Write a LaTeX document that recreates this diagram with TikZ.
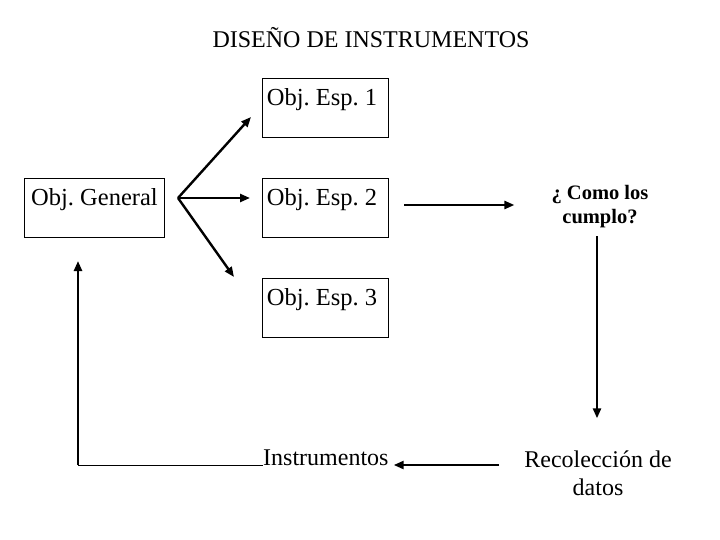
\documentclass[tikz,border=0pt]{standalone}
\usepackage{fontspec}
\setmainfont{Liberation Serif}
\usetikzlibrary{arrows.meta, positioning}
\frenchspacing

\begin{document}
\begin{tikzpicture}[
    x=1pt, y=-1pt,
    box/.style={draw, line width=1pt, minimum width=126pt, inner sep=0pt, text height=27pt, text depth=32pt, font=\fontsize{24.5}{28}\selectfont},
    leftbox/.style={box, execute at end node=\hspace*{7pt}},
    txt/.style={inner sep=0pt, align=center, font=\fontsize{24}{28}\selectfont},
    arr/.style={line width=2.4pt, -{Triangle[length=10pt,width=8pt]}}
]
\useasboundingbox (0,0) rectangle (720,540);
\node[txt] (title) at (371,38) {DISEÑO DE INSTRUMENTOS};
\node[leftbox, anchor=north west] (esp1) at (262,78) {Obj. Esp. 1};
\node[leftbox, anchor=north west] (esp2) at (262,178) {Obj. Esp. 2};
\node[leftbox, anchor=north west] (esp3) at (262,278) {Obj. Esp. 3};
\node[box, anchor=north west, minimum width=140pt] (gen) at (24,178) {Obj. General};
\node[txt, font=\bfseries\fontsize{20.5}{24}\selectfont] (como) at (600,207) {¿ Como los\\cumplo?};
\node[txt] (rec) at (598,473) {Recolección de\\datos};
\node[txt, anchor=base west] (instr) at (263,465) {Instrumentos};

\coordinate (fork) at (178,198);
\coordinate (tip1) at (251,117);
\coordinate (tip2) at (250,198);
\coordinate (tip3) at (234,277);
\coordinate (corner) at (78,465);
\coordinate (back) at (78,261);

\foreach \t in {tip1,tip2,tip3} \draw[arr] (fork) -- (\t);
\draw[arr, shorten <=15pt, shorten >=37pt] ([yshift=3pt]esp2.east) -- ([yshift=3pt]esp2.east -| como.west);
\draw[arr, shorten <=8pt, shorten >=32pt] ([xshift=-3pt]como.south) -- ([xshift=-3pt]como.south |- rec.north);
\draw[arr, shorten <=25pt, shorten >=5pt] (rec.west |- instr.base east) -- (instr.base east);
\draw[line width=1pt] (instr.base west) -- (corner);
\draw[arr] (corner) -- (back);
\end{tikzpicture}
\end{document}
